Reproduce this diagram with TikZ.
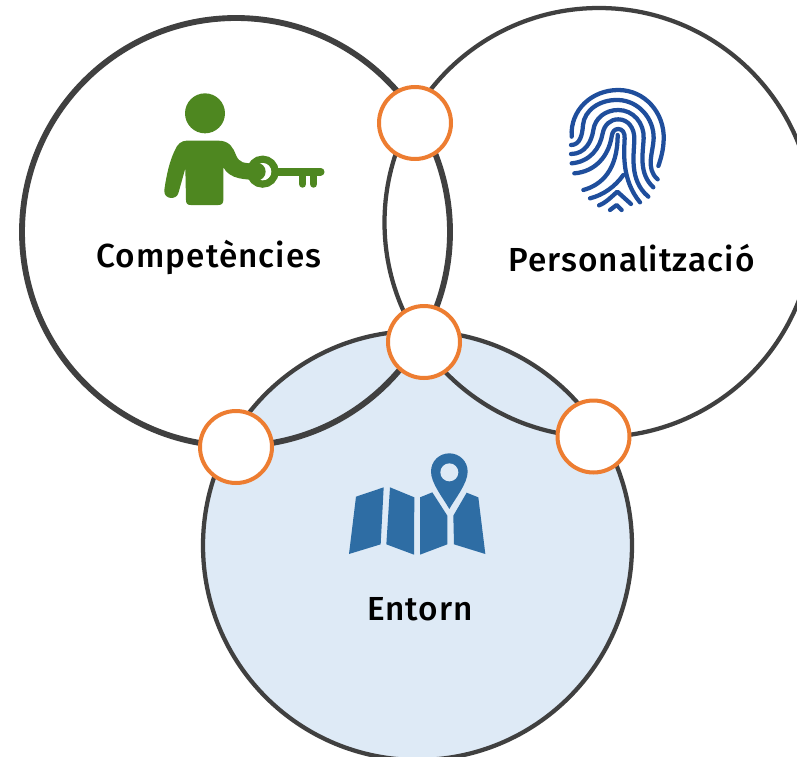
\documentclass[tikz,border=0pt]{standalone}
\usepackage{fontspec}
\setmainfont[LetterSpace=3.2]{Fira Sans Medium}
\definecolor{ringgrey}{RGB}{64,64,64}
\definecolor{joinorange}{RGB}{237,125,49}
\definecolor{keygreen}{RGB}{78,135,32}
\definecolor{printblue}{RGB}{31,78,156}
\definecolor{mapblue}{RGB}{46,109,164}
\definecolor{entornfill}{RGB}{222,234,246}
\tikzset{
  bigring/.style={draw=ringgrey,line width=3.2pt},
  joinring/.style={circle,draw=joinorange,fill=white,line width=3pt,minimum size=54pt,inner sep=0pt},
  ringlabel/.style={inner sep=0.75pt,font=\fontsize{25}{29}\selectfont},
  ridge/.style={draw=printblue,line width=3.2pt,line cap=round,line join=round},
}
\begin{document}
\begin{tikzpicture}[x=0.75pt,y=0.75pt,yscale=-1,xscale=1]
\useasboundingbox (0,0) rectangle (797,757);
\clip (0,0) rectangle (797,757);

%Shape: Circle Entorn
\draw [bigring,fill=entornfill] (417.5,545.5) circle [radius=214.5];
%Shape: Circle Competencies
\draw [bigring,line width=4.4pt] (236,232) circle [radius=214];
%Shape: Circle Personalitzacio
\draw [bigring] (599,222.5) circle [radius=214.5];

%Icon: key holder
\begin{scope}[shift={(150,80)},scale=1/3]
\fill [keygreen] (165,100) circle [radius=60];
\fill [keygreen] (110,182) -- (205,182) .. controls (240,182) and (250,205) .. (258,225) .. controls (268,250) and (285,250) .. (310,250) -- (320,300) .. controls (290,298) and (240,300) .. (220,262) -- (220,360) .. controls (220,370) and (215,375) .. (205,375) -- (122,375) .. controls (112,375) and (108,370) .. (108,360) -- (106,265) -- (85,340) .. controls (80,360) and (40,360) .. (43,330) .. controls (50,280) and (60,240) .. (75,210) .. controls (82,192) and (95,182) .. (110,182) -- cycle;
\draw [keygreen,line width=5.6pt] (338,275) circle [radius=37];
\fill [white] (338,275) circle [radius=26];
\fill [keygreen] (320,275) circle [radius=27];
\draw [keygreen,line width=5.8pt,line cap=round] (380,275) -- (512,275);
\draw [keygreen,line width=5.6pt,line cap=round] (458,280) -- (458,312);
\draw [keygreen,line width=5.6pt,line cap=round] (491,280) -- (491,312);
\end{scope}

%Icon: fingerprint
\begin{scope}[shift={(555,80)},scale=1/3]
\draw [ridge] (50,170) .. controls (45,90) and (110,30) .. (190,30) .. controls (270,30) and (330,100) .. (326,180) .. controls (325,210) and (318,235) .. (310,258);
\draw [ridge] (48,195) .. controls (75,195) and (82,165) .. (84,135) .. controls (88,90) and (135,58) .. (190,60) .. controls (250,62) and (297,115) .. (296,175) .. controls (295,215) and (270,265) .. (308,298);
\draw [ridge] (48,222) .. controls (90,222) and (110,185) .. (115,150) .. controls (120,115) and (150,90) .. (190,90) .. controls (235,90) and (268,130) .. (266,175) .. controls (264,220) and (250,280) .. (295,322);
\draw [ridge] (50,250) .. controls (105,245) and (135,205) .. (143,160) .. controls (148,135) and (165,118) .. (190,118) .. controls (220,118) and (238,145) .. (238,175) .. controls (238,220) and (220,300) .. (280,350);
\draw [ridge] (58,280) .. controls (120,275) and (160,230) .. (170,170) .. controls (172,155) and (178,147) .. (190,147) .. controls (202,147) and (210,158) .. (209,175) .. controls (207,220) and (200,300) .. (255,367);
\draw [ridge] (85,330) .. controls (140,315) and (188,270) .. (188,165);
\draw [ridge] (105,355) .. controls (145,345) and (180,320) .. (205,285);
\draw [ridge] (132,376) .. controls (150,370) and (170,350) .. (187,335) -- (228,372);
\draw [ridge] (165,390) -- (185,375) -- (200,390);
\end{scope}

%Icon: map with pin
\begin{scope}[shift={(340,445)},scale=1/3]
\fill [mapblue] (48,155) -- (131,127) -- (122,298) -- (27,327) -- cycle;
\fill [mapblue] (150,127) -- (223,157) -- (222,329) -- (139,298) -- cycle;
\fill [mapblue] (240,157) -- (277,142) -- (322,212) -- (322,298) -- (240,329) -- cycle;
\fill [mapblue] (380,143) -- (415,157) -- (436,327) -- (342,298) -- (340,212) -- cycle;
\fill [mapblue] (328,192) .. controls (310,160) and (273,115) .. (273,80) .. controls (273,48) and (298,25) .. (328,25) .. controls (358,25) and (383,48) .. (383,80) .. controls (383,115) and (346,160) .. (328,192) -- cycle;
\fill [entornfill] (328,82) circle [radius=27];
\end{scope}

%Orange joins
\node [joinring] (joinTop) at (415,123) {};
\node [joinring] (joinMid) at (424,342) {};
\node [joinring] (joinLeft) at (236,447) {};
\node [joinring] (joinRight) at (593.5,436.5) {};

% Text Node
\node [ringlabel] (labelComp) at (209,257) {Competències};
\node [ringlabel] (labelPers) at (631.5,258) {Personalització};
\node [ringlabel] (labelEnt) at (420,609) {Entorn};
\end{tikzpicture}
\end{document}
